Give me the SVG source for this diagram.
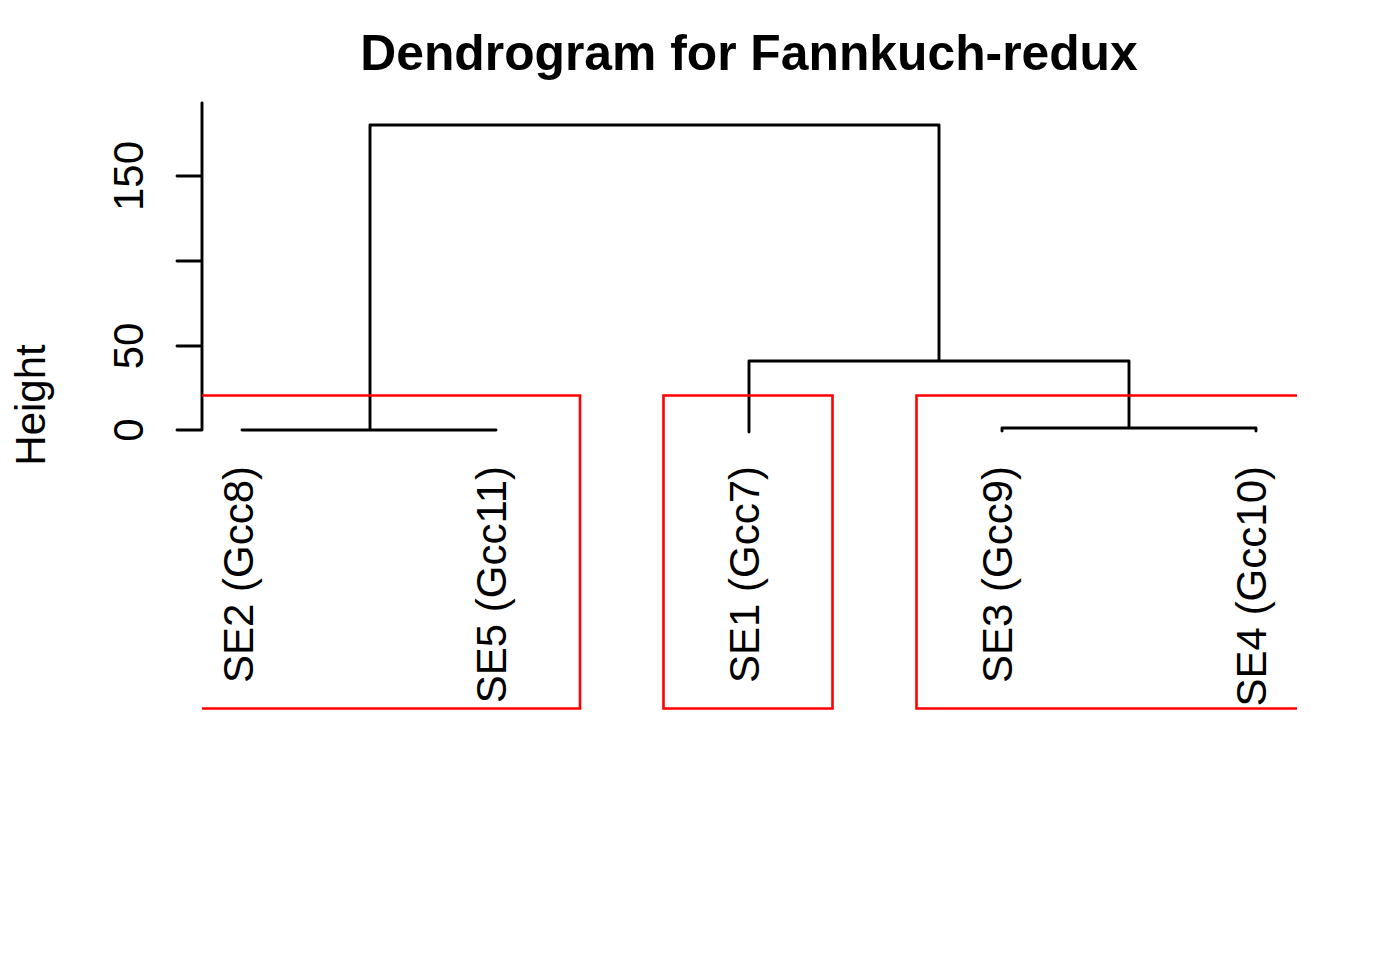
<svg xmlns="http://www.w3.org/2000/svg" width="1400" height="960" viewBox="0 0 1400 960">
<style>
.t{font-family:"Liberation Sans",Arial,sans-serif;fill:#000}
.lbl{font-size:42px;text-anchor:end}
.ax{font-size:42px;text-anchor:middle}
.k{stroke:#000;stroke-width:2.9;fill:none;stroke-linecap:round;stroke-linejoin:round}
.r{stroke:#ff0000;stroke-width:2.6;fill:none}
</style>
<rect width="1400" height="960" fill="#fff"/>
<text class="t" x="749" y="70" font-size="49.8" font-weight="bold" text-anchor="middle">Dendrogram for Fannkuch-redux</text>
<g id="axis">
<path class="k" d="M202 103V430M177 430H202M177 346H202M177 261H202M177 176H202"/>
<text class="t ax" transform="translate(143,430) rotate(-90)">0</text>
<text class="t ax" transform="translate(143,346) rotate(-90)">50</text>
<text class="t ax" transform="translate(143,176) rotate(-90)">150</text>
<text class="t ax" transform="translate(45,405) rotate(-90)">Height</text>
</g>
<g id="connectors">
<path class="k" d="M242 430H496M370 430V125H939V361M749 432V361H1129V428M1002 431V428H1256V431"/>
</g>
<g id="leaves">
<g id="SE2"><text class="t lbl" transform="translate(253,466) rotate(-90)">SE2 (Gcc8)</text></g>
<g id="SE5"><text class="t lbl" transform="translate(506,466) rotate(-90)">SE5 (Gcc11)</text></g>
<g id="SE1"><text class="t lbl" transform="translate(759,466) rotate(-90)">SE1 (Gcc7)</text></g>
<g id="SE3"><text class="t lbl" transform="translate(1012,466) rotate(-90)">SE3 (Gcc9)</text></g>
<g id="SE4"><text class="t lbl" transform="translate(1266,466) rotate(-90)">SE4 (Gcc10)</text></g>
</g>
<g id="clusters">
<path class="r" d="M202 395.5H580V708.5H202"/>
<path class="r" d="M663.5 395.5H832.5V708.5H663.5Z"/>
<path class="r" d="M1297 395.5H916.5V708.5H1297"/>
</g>
</svg>
